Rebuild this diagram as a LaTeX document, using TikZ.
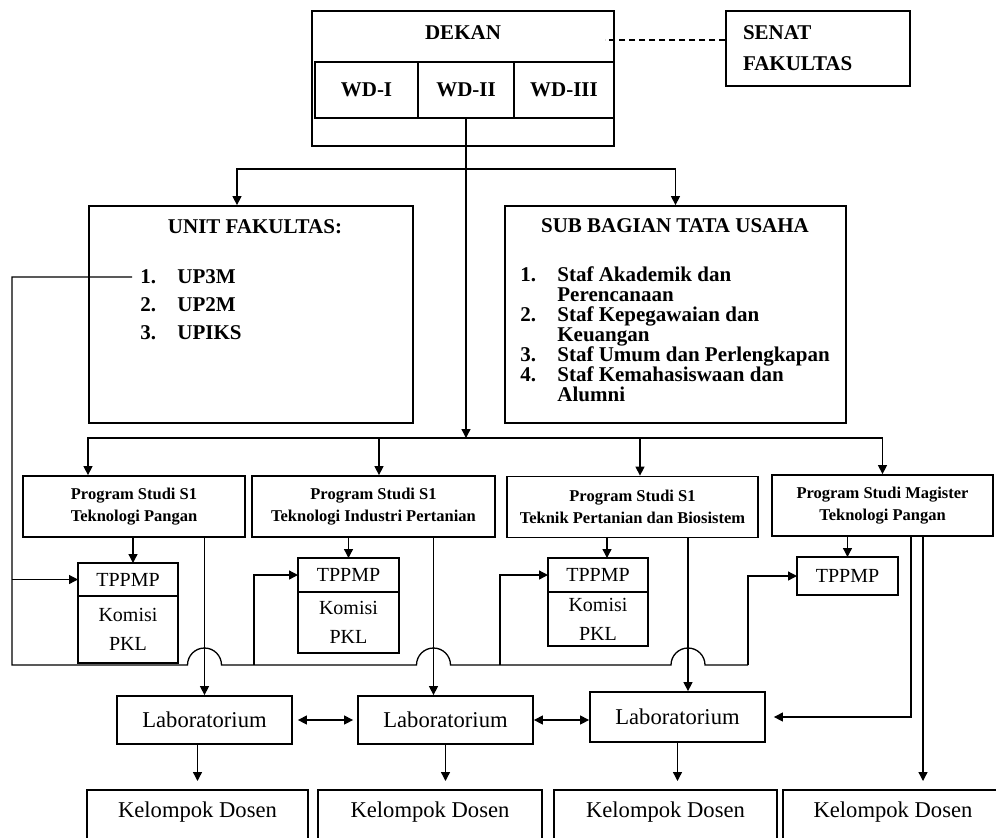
\documentclass[tikz,border=0pt]{standalone}
\usepackage{fontspec}
\setmainfont{Liberation Serif}
\usetikzlibrary{arrows.meta,positioning}
\newcommand\listno[1]{\makebox[18.5pt][l]{#1}}

\begin{document}
\begin{tikzpicture}[x=0.5pt,y=-0.5pt,
	>={Triangle[length=4.5pt,width=4.5pt]},
	line/.style={line width=0.65pt},
	box/.style={draw,line width=0.9pt,inner sep=0pt,align=center},
	head/.style={font=\fontsize{10.5}{15.5}\selectfont\bfseries},
	prog/.style={box,font=\fontsize{8.25}{10.8}\selectfont\bfseries,minimum height=30.5pt},
	small/.style={box,outer sep=0pt,font=\fontsize{10}{14.5}\selectfont},
	lab/.style={box,font=\fontsize{11.3}{13}\selectfont,minimum width=87.5pt,minimum height=24pt},
	dosen/.style={box,font=\fontsize{11.3}{13}\selectfont,anchor=north,text height=8pt,text depth=30pt,inner ysep=6pt}]
	\useasboundingbox (0,0) rectangle (996,837);

	\node[box,minimum width=151pt,minimum height=67.5pt] (dekan) at (463,78.5) {};
	\node[head] (dekanlabel) at (463,33) {DEKAN};
	\node[box,head,minimum width=51.5pt,minimum height=28pt] (wd1) at (366.5,90) {WD-I};
	\node[box,head,minimum width=48pt,minimum height=28pt] (wd2) at (466,90) {WD-II};
	\node[box,head,minimum width=50pt,minimum height=28pt] (wd3) at (564,90) {WD-III};
	\node[box,head,minimum width=92pt,minimum height=37.5pt,text width=75pt,align=left] (senat) at (818,48.5) {SENAT\\FAKULTAS};

	\node[box,minimum width=162pt,minimum height=108.5pt] (unit) at (251,314.5) {};
	\node[head] (unittitle) at (255,227) {UNIT FAKULTAS:};
	\node[head,anchor=west,inner sep=0pt] (item1) at (140,277) {\listno{1.}UP3M};
	\node[head,anchor=west,inner sep=0pt] (item2) at (140,305) {\listno{2.}UP2M};
	\node[head,anchor=west,inner sep=0pt] (item3) at (140,333) {\listno{3.}UPIKS};

	\node[box,minimum width=170.5pt,minimum height=108.5pt] (sub) at (675.5,314.5) {};
	\node[head] (subtitle) at (675,226) {SUB BAGIAN TATA USAHA};
	\node[anchor=west,inner sep=0pt,align=left,font=\fontsize{10.5}{10}\selectfont\bfseries] (stafs) at (520,334) {\listno{1.}Staf Akademik dan\\\hspace*{18.5pt}Perencanaan\\\listno{2.}Staf Kepegawaian dan\\\hspace*{18.5pt}Keuangan\\\listno{3.}Staf Umum dan Perlengkapan\\\listno{4.}Staf Kemahasiswaan dan\\\hspace*{18.5pt}Alumni};

	\node[prog,minimum width=111pt] (ps1) at (134,506.5) {Program Studi S1\\Teknologi Pangan};
	\node[prog,minimum width=121.5pt] (ps2) at (373.5,506.5) {Program Studi S1\\Teknologi Industri Pertanian};
	\node[prog,minimum width=125.5pt] (ps3) at (632.5,507) {Program Studi S1\\Teknik Pertanian dan Biosistem};
	\node[prog,minimum width=110.5pt] (ps4) at (882.5,505.5) {Program Studi Magister\\Teknologi Pangan};

	\node[small,minimum width=50pt,minimum height=16.5pt] (tp1) at (128,579.5) {TPPMP};
	\node[small,minimum width=50pt,minimum height=33.5pt,below=0pt of tp1] (kp1) {Komisi\\PKL};
	\node[small,minimum width=50.5pt,minimum height=17pt] (tp2) at (348.5,575) {TPPMP};
	\node[small,minimum width=50.5pt,minimum height=30.5pt,below=0pt of tp2] (kp2) {Komisi\\PKL};
	\node[small,minimum width=50pt,minimum height=17pt] (tp3) at (598,575) {TPPMP};
	\node[small,minimum width=50pt,minimum height=27pt,below=0pt of tp3] (kp3) {Komisi\\PKL};
	\node[small,minimum width=50.5pt,minimum height=19pt] (tp4) at (847.5,576) {TPPMP};

	\node[lab] (lab1) at (204.5,720) {Laboratorium};
	\node[lab] (lab2) at (445.5,720) {Laboratorium};
	\node[lab,minimum height=25pt] (lab3) at (677.5,717) {Laboratorium};

	\node[dosen,minimum width=110.5pt] (k1) at (197.5,789) {Kelompok Dosen};
	\node[dosen,minimum width=112pt] (k2) at (430,789) {Kelompok Dosen};
	\node[dosen,minimum width=111.5pt] (k3) at (665.5,789) {Kelompok Dosen};
	\node[dosen,minimum width=110pt] (k4) at (893,789) {Kelompok Dosen};

	\draw[line,dash pattern=on 3pt off 2pt] ([yshift=4.25pt]senat.west) -- ++(-60pt,0);

	\coordinate (fork) at (466,169);
	\coordinate (bus) at (466,438);
	\draw[line,->] (wd2.south) -- (bus);
	\draw[line,->] (fork) -| ([xshift=-7pt]unit.north);
	\draw[line,->] (fork) -| (sub.north);
	\draw[line,->] (bus) -| ([xshift=-23pt]ps1.north);
	\draw[line,->] (bus) -| ([xshift=2.75pt]ps2.north);
	\draw[line,->] (bus) -| ([xshift=3.75pt]ps3.north);
	\draw[line,->] (bus) -| (ps4.north);

	\draw[line,->] ([xshift=2.5pt]tp1.north |- ps1.south) -- ([xshift=2.5pt]tp1.north);
	\draw[line,->] (tp2.north |- ps2.south) -- (tp2.north);
	\draw[line,->] ([xshift=4.5pt]tp3.north |- ps3.south) -- ([xshift=4.5pt]tp3.north);
	\draw[line,->] (tp4.north |- ps4.south) -- (tp4.north);

	\draw[line,->] (lab1.north |- ps1.south) -- (lab1.north);
	\draw[line,->] ([xshift=-6pt]lab2.north |- ps2.south) -- ([xshift=-6pt]lab2.north);
	\draw[line,->] ([xshift=5.25pt]lab3.north |- ps3.south) -- ([xshift=5.25pt]lab3.north);
	\draw[line,->] ([xshift=14.25pt]ps4.south) |- ([xshift=4pt]lab3.east);
	\draw[line,->] ([xshift=20.25pt]ps4.south) -- ([xshift=20.25pt,yshift=4pt]ps4.south |- k4.north);

	\draw[line,<->] ([xshift=2.5pt]lab1.east) -- ([xshift=-2pt]lab2.west);
	\draw[line,<->] (lab2.east) -- (lab2.east -| lab3.west);
	\draw[line,->,shorten >=4pt] (k1.north |- lab1.south) -- (k1.north);
	\draw[line,->,shorten >=4pt] (lab2.south) -- (lab2.south |- k2.north);
	\draw[line,->,shorten >=4pt] (lab3.south) -- (lab3.south |- k3.north);

	\coordinate (loopl) at (12,665);
	\coordinate (hopa) at (lab1.north |- loopl);
	\coordinate (hopb) at ([xshift=-6pt]lab2.north |- loopl);
	\coordinate (hopc) at ([xshift=5.25pt]lab3.north |- loopl);
	\coordinate (upb) at (254,665);
	\coordinate (upc) at (500,665);
	\coordinate (upd) at (748,665);
	\draw[line] ([xshift=-4pt]item1.west) -| (loopl) -- ([xshift=-8.5pt]hopa) arc[start angle=180,end angle=0,radius=8.5pt]
		-- ([xshift=-8.5pt]hopb) arc[start angle=180,end angle=0,radius=8.5pt]
		-- ([xshift=-8.5pt]hopc) arc[start angle=180,end angle=0,radius=8.5pt] -- (upd);
	\draw[line,->] (loopl |- tp1.west) -- (tp1.west);
	\draw[line,->] (upb) |- (tp2.west);
	\draw[line,->] (upc) |- (tp3.west);
	\draw[line,->] (upd) |- (tp4.west);
\end{tikzpicture}
\end{document}
